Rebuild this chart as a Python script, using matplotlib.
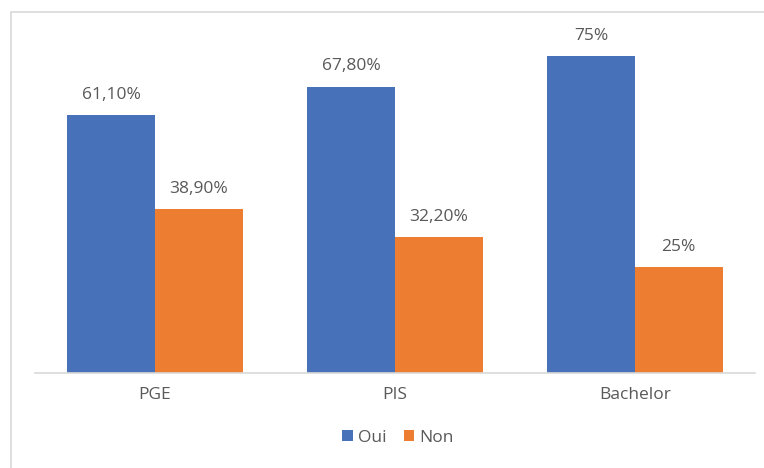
import matplotlib.pyplot as plt
import numpy as np
from matplotlib.patches import Rectangle

plt.rcParams['font.family'] = ['Open Sans', 'DejaVu Sans']

categories = ['PGE', 'PIS', 'Bachelor']
oui = [61.1, 67.8, 75]
non = [38.9, 32.2, 25]
oui_labels = ['61,10%', '67,80%', '75%']
non_labels = ['38,90%', '32,20%', '25%']

blue = '#4771B8'
orange = '#ED7D31'
gris = '#595959'

fig = plt.figure(figsize=(7.64, 4.68), dpi=100)
ax = fig.add_axes([35 / 764, 1 - 373 / 468, 720 / 764, 338 / 468])

x = np.arange(len(categories))
w = 0.365
b1 = ax.bar(x - w / 2, oui, w, color=blue, label='Oui')
b2 = ax.bar(x + w / 2, non, w, color=orange, label='Non')

for bars, labels in ((b1, oui_labels), (b2, non_labels)):
    for bar, lab in zip(bars, labels):
        ax.annotate(lab, (bar.get_x() + bar.get_width() / 2, bar.get_height()),
                    xytext=(0, 14.5), textcoords='offset points',
                    ha='center', va='center', fontsize=12.5, color=gris)

ax.set_xlim(-0.5, 2.5)
ax.set_ylim(0, 80)
ax.set_xticks(x)
ax.set_xticklabels(categories, fontsize=12.5, color=gris)
ax.tick_params(axis='x', length=0, pad=10)
ax.set_yticks([])
for s in ['top', 'right', 'left']:
    ax.spines[s].set_visible(False)
ax.spines['bottom'].set_color('#D9D9D9')
ax.spines['bottom'].set_linewidth(1.2)

fig.legend(loc='center', bbox_to_anchor=(398 / 764, 1 - 438 / 468), ncol=2,
           frameon=False, fontsize=12.5, labelcolor=gris,
           handlelength=0.6, handleheight=0.6, handletextpad=0.3, columnspacing=1.0)

# cadre gris du graphique
fig.patches.append(Rectangle((11 / 764, -0.1), 1.2, 1 - 12 / 468 + 0.1,
                             transform=fig.transFigure, fill=False,
                             edgecolor='#D9D9D9', linewidth=1.2))

fig.savefig('out.png', dpi=100)
